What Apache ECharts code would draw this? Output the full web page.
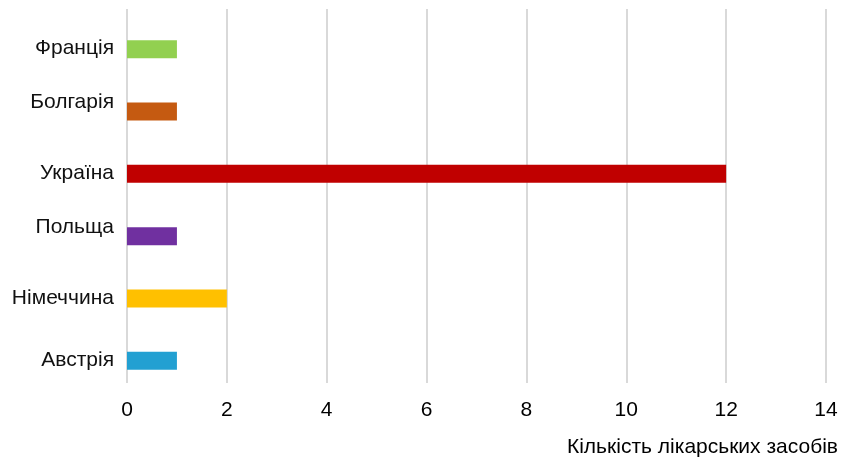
<!DOCTYPE html>
<html>
<head>
<meta charset="utf-8">
<script src="https://cdn.jsdelivr.net/npm/echarts@6/dist/echarts.min.js"></script>
<style>
  html, body { margin: 0; padding: 0; background: #fff; }
  #chart { width: 843px; height: 461px; }
</style>
</head>
<body>
<div id="chart"></div>
<script>
// Countries listed bottom-to-top along the category axis
const countries = ['Австрія', 'Німеччина', 'Польща', 'Україна', 'Болгарія', 'Франція'];
// Number of medicines per country
const counts = [1, 2, 1, 12, 1, 1];
const barColors = ['#22A0D2', '#FFC000', '#7030A0', '#C00000', '#C55A11', '#92D050'];
const xTicks = { min: 0, max: 14, interval: 2 };
const axisTitle = 'Кількість лікарських засобів';

// Labels that sit at the band centre rather than level with the bar
const raisedLabels = ['Польща', 'Болгарія'];

const FONT = 'Liberation Sans, Arial, sans-serif';
const FS = 21;

const chart = echarts.init(document.getElementById('chart'), null, { renderer: 'canvas' });

chart.setOption({
  animation: false,
  backgroundColor: '#ffffff',
  textStyle: { fontFamily: FONT },
  grid: { left: 127, right: 17, top: 9, bottom: 78, containLabel: false },
  xAxis: {
    type: 'value',
    min: xTicks.min,
    max: xTicks.max,
    interval: xTicks.interval,
    axisLine: { show: false },
    axisTick: { show: false },
    splitLine: { show: true, lineStyle: { color: '#D9D9D9', width: 2 } },
    axisLabel: { color: '#000', fontSize: FS, fontFamily: FONT, margin: 17 }
  },
  yAxis: {
    type: 'category',
    data: countries,
    axisLine: { show: false },
    axisTick: { show: false },
    splitLine: { show: false },
    axisLabel: {
      color: '#111',
      fontSize: FS,
      fontFamily: FONT,
      margin: 13,
      formatter: function (v) {
        return raisedLabels.indexOf(v) >= 0 ? '{hi|' + v + '}' : '{lo|' + v + '}';
      },
      rich: {
        hi: { fontSize: FS, fontFamily: FONT, color: '#111', padding: [0, 0, 0, 0] },
        lo: { fontSize: FS, fontFamily: FONT, color: '#111', padding: [17, 0, 0, 0] }
      }
    }
  },
  graphic: [{
    type: 'text',
    right: 5,
    top: 437,
    style: { text: axisTitle, fill: '#000', font: FS + 'px ' + FONT }
  }],
  series: [
    {
      // spacer series: pushes the visible bars to the lower half of each band
      type: 'bar',
      data: countries.map(function () { return null; }),
      barWidth: 18,
      barGap: '0%',
      silent: true
    },
    {
      type: 'bar',
      barWidth: 18,
      barGap: '0%',
      data: counts.map(function (v, i) {
        return { value: v, itemStyle: { color: barColors[i] } };
      })
    }
  ]
});
</script>
</body>
</html>
